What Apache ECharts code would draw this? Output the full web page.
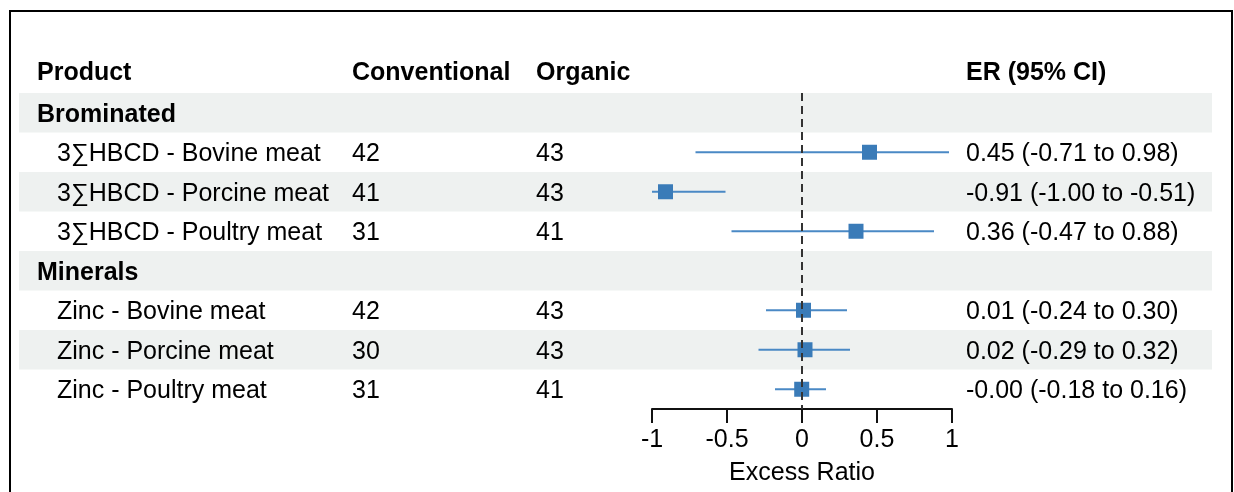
<!DOCTYPE html>
<html>
<head>
<meta charset="utf-8">
<script src="https://cdn.jsdelivr.net/npm/echarts@6/dist/echarts.min.js"></script>
<style>
  html, body { margin: 0; padding: 0; background: #fff; }
  #chart { width: 1234px; height: 492px; }
</style>
</head>
<body>
<div id="chart"></div>
<script>
// table data
const groups = ["Brominated", "Minerals"];
const groupOf = [0, 0, 0, 1, 1, 1];
const products = [
  "3∑HBCD - Bovine meat",
  "3∑HBCD - Porcine meat",
  "3∑HBCD - Poultry meat",
  "Zinc - Bovine meat",
  "Zinc - Porcine meat",
  "Zinc - Poultry meat",
];
const conventional = [42, 41, 31, 42, 30, 31];
const organic = [43, 43, 41, 43, 43, 41];
const er = [0.45, -0.91, 0.36, 0.01, 0.02, -0.002];
const lower = [-0.71, -1.0, -0.47, -0.24, -0.29, -0.18];
const upper = [0.98, -0.51, 0.88, 0.3, 0.32, 0.16];

const FONT = "Liberation Sans, Arial, Helvetica, sans-serif";
const FS = 25;
const BLUE = "#3a7bb8";

// build rows: group header then its items
const rows = [];
groups.forEach((g, gi) => {
  rows.push({ kind: "group", label: g });
  products.forEach((p, i) => {
    if (groupOf[i] === gi) rows.push({ kind: "item", i: i });
  });
});
const rowIdx = {}; // product index -> row number (1-based)
rows.forEach((r, k) => {
  if (r.kind === "item") rowIdx[r.i] = k + 1;
});

const fmt = (v) => v.toFixed(2);
const cols = { product: 37, indent: 57, conv: 352, org: 536, er: 966 };

function txt(x, y, s, bold) {
  return {
    type: "text",
    x: x,
    y: y,
    style: {
      text: s,
      font: (bold ? "bold " : "") + FS + "px " + FONT,
      fill: "#000",
      verticalAlign: "middle",
      align: "left",
    },
  };
}

const myChart = echarts.init(document.getElementById("chart"));
const option = {
  animation: false,
  backgroundColor: "#fff",
  grid: { left: 652, right: 282, top: 93, bottom: 83 },
  xAxis: {
    type: "value",
    min: -1,
    max: 1,
    interval: 0.5,
    splitLine: { show: false },
    axisLine: { lineStyle: { color: "#111", width: 2 } },
    axisTick: { show: true, length: 14, lineStyle: { color: "#111", width: 2 } },
    axisLabel: {
      color: "#000",
      fontSize: FS,
      fontFamily: FONT,
      margin: 19,
      formatter: (v) => String(v),
    },
    name: "Excess Ratio",
    nameLocation: "middle",
    nameGap: 52,
    nameTextStyle: { color: "#000", fontSize: FS, fontFamily: FONT },
  },
  yAxis: {
    type: "value",
    inverse: true,
    min: 0.5,
    max: rows.length + 0.5,
    show: false,
  },
  graphic: [
    {
      type: "rect",
      shape: { x: 10, y: 11, width: 1222, height: 500 },
      style: { fill: "none", stroke: "#000", lineWidth: 2 },
      z: 100,
    },
  ],
  series: [
    {
      // shaded bands
      type: "custom",
      z: 0,
      silent: true,
      data: rows.map((r, k) => [k + 1]),
      renderItem: function (params, api) {
        const r = api.value(0);
        if (r % 2 === 0) return null;
        const y0 = api.coord([0, r - 0.5])[1];
        const y1 = api.coord([0, r + 0.5])[1];
        return {
          type: "rect",
          shape: { x: 19, y: y0, width: 1193, height: y1 - y0 },
          style: { fill: "#eef1f0" },
        };
      },
    },
    {
      // table text
      type: "custom",
      z: 2,
      silent: true,
      data: [[0]].concat(rows.map((r, k) => [k + 1])),
      renderItem: function (params, api) {
        const r = api.value(0);
        const y = api.coord([0, r])[1];
        if (r === 0) {
          return {
            type: "group",
            children: [
              txt(cols.product, y, "Product", true),
              txt(cols.conv, y, "Conventional", true),
              txt(cols.org, y, "Organic", true),
              txt(cols.er, y, "ER (95% CI)", true),
            ],
          };
        }
        const row = rows[r - 1];
        const yy = y + 2;
        if (row.kind === "group") {
          return { type: "group", children: [txt(cols.product, yy, row.label, true)] };
        }
        const i = row.i;
        return {
          type: "group",
          children: [
            txt(cols.indent, yy, products[i], false),
            txt(cols.conv, yy, String(conventional[i]), false),
            txt(cols.org, yy, String(organic[i]), false),
            txt(cols.er, yy, fmt(er[i]) + " (" + fmt(lower[i]) + " to " + fmt(upper[i]) + ")", false),
          ],
        };
      },
    },
    {
      // CI whiskers
      type: "custom",
      z: 3,
      silent: true,
      data: products.map((p, i) => [lower[i], upper[i], rowIdx[i]]),
      renderItem: function (params, api) {
        const a = api.coord([api.value(0), api.value(2)]);
        const b = api.coord([api.value(1), api.value(2)]);
        return {
          type: "line",
          shape: { x1: a[0], y1: a[1], x2: b[0], y2: b[1] },
          style: { stroke: "#4a89c5", lineWidth: 2 },
        };
      },
    },
    {
      type: "scatter",
      z: 4,
      symbol: "rect",
      symbolSize: 15,
      itemStyle: { color: BLUE, opacity: 1 },
      data: products.map((p, i) => [er[i], rowIdx[i]]),
    },
    {
      type: "line",
      z: 5,
      data: [],
      markLine: {
        silent: true,
        symbol: "none",
        label: { show: false },
        lineStyle: { color: "#333", width: 2, type: [8, 5] },
        data: [{ xAxis: 0 }],
      },
    },
  ],
};
myChart.setOption(option);
</script>
</body>
</html>
